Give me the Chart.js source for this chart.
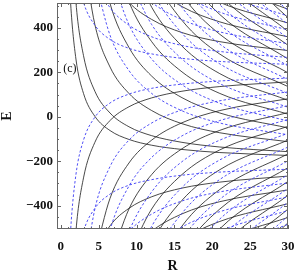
<!DOCTYPE html>
<html>
<head>
<meta charset="utf-8">
<script src="https://cdn.jsdelivr.net/npm/chart.js@4.4.0/dist/chart.umd.min.js"></script>
<style>
  html, body { margin: 0; padding: 0; background: #fff; }
</style>
</head>
<body>
<canvas id="levels" width="294" height="273"></canvas>
<script>
const _ = null;

const rGrid = [1, 1.3, 2, 3, 4.5, 6.5, 9, 12, 16, 21, 30];

// E values on rGrid, falling branches (solid black)
const fallingBlack = [
    [725, 510, 260, 105, 2, -62, -102, -128, -147, -161, -174],
    [_, 903, 515, 275, 115, 17, -45, -85, -115, -136, -157],
    [_, _, _, 725, 415, 224, 105, 28, -31, -72, -112],
    [_, _, _, _, 828, 510, 312, 183, 86, 17, -50],
    [_, _, _, _, _, 797, 518, 338, 202, 105, 12],
    [_, _, _, _, _, _, 725, 493, 318, 194, 74],
    [_, _, _, _, _, _, 931, 648, 434, 282, 136],
    [_, _, _, _, _, _, _, 803, 550, 371, 198],
    [_, _, _, _, _, _, _, 957, 667, 460, 260],
    [_, _, _, _, _, _, _, _, 783, 548, 322],
    [_, _, _, _, _, _, _, _, 899, 637, 384],
    [_, _, _, _, _, _, _, _, _, 725, 446],
    [_, _, _, _, _, _, _, _, _, 814, 508],
    [_, _, _, _, 825, 634, 515, 438, 379, 338, 298],
    [_, _, _, _, _, _, 722, 593, 496, 427, 360],
    [_, _, _, _, _, _, _, 748, 612, 515, 422],
    [_, _, _, _, _, _, _, _, 728, 604, 484]
];

// falling branches (dashed blue)
const fallingBlue = [
    [_, _, _, _, 622, 367, 208, 105, 27, -28, -81],
    [_, _, _, _, _, 654, 415, 260, 144, 61, -19],
    [_, _, _, _, _, _, 621, 415, 260, 149, 43],
    [_, _, _, _, _, _, 828, 570, 376, 238, 105],
    [_, _, _, _, _, _, _, 725, 492, 327, 167],
    [_, _, _, _, _, _, _, 880, 608, 415, 229],
    [_, _, _, _, _, _, _, _, 725, 504, 291],
    [_, _, _, _, _, _, _, _, 841, 592, 353],
    [_, _, _, _, _, _, _, _, 957, 681, 415],
    [_, _, _, _, _, _, _, _, _, 770, 477],
    [_, _, 670, 515, 412, 348, 308, 283, 263, 249, 236],
    [_, _, _, 825, 618, 491, 412, 360, 321, 294, 267],
    [_, _, _, _, _, 777, 618, 515, 437, 382, 329],
    [_, _, _, _, _, _, 825, 670, 554, 471, 391],
    [_, _, _, _, _, _, _, 825, 670, 559, 453]
];

// rising branches (dashed blue)
const risingBlue = [
    [-725, -510, -260, -105, -2, 62, 102, 128, 147, 161, 174],
    [_, _, _, -725, -415, -224, -105, -28, 31, 72, 112],
    [_, _, _, _, -828, -510, -312, -183, -86, -17, 50],
    [_, _, _, _, _, -797, -518, -338, -202, -105, -12],
    [_, _, _, _, _, _, -725, -493, -318, -194, -74],
    [_, _, _, _, _, _, -931, -648, -434, -282, -136],
    [_, _, _, _, _, _, _, -803, -550, -371, -198],
    [_, _, _, _, _, _, _, -957, -667, -460, -260],
    [_, _, _, _, _, _, _, _, -783, -548, -322],
    [_, _, _, _, _, _, _, _, -899, -637, -384],
    [_, _, _, _, _, _, _, _, _, -725, -446],
    [_, _, _, _, _, _, _, _, _, -814, -508],
    [_, _, -670, -515, -412, -348, -308, -283, -263, -249, -236],
    [_, _, _, _, -825, -634, -515, -438, -379, -338, -298],
    [_, _, _, _, _, _, -722, -593, -496, -427, -360],
    [_, _, _, _, _, _, _, -748, -612, -515, -422],
    [_, _, _, _, _, _, _, _, -728, -604, -484]
];

// rising branches (solid black)
const risingBlack = [
    [_, -903, -515, -275, -115, -17, 45, 85, 115, 136, 157],
    [_, _, _, _, -622, -367, -208, -105, -27, 28, 81],
    [_, _, _, _, _, -654, -415, -260, -144, -61, 19],
    [_, _, _, _, _, _, -621, -415, -260, -149, -43],
    [_, _, _, _, _, _, -828, -570, -376, -238, -105],
    [_, _, _, _, _, _, _, -725, -492, -327, -167],
    [_, _, _, _, _, _, _, -880, -608, -415, -229],
    [_, _, _, _, _, _, _, _, -725, -504, -291],
    [_, _, _, _, _, _, _, _, -841, -592, -353],
    [_, _, _, _, _, _, _, _, -957, -681, -415],
    [_, _, _, _, _, _, _, _, _, -770, -477],
    [_, _, _, -825, -618, -491, -412, -360, -321, -294, -267],
    [_, _, _, _, _, -777, -618, -515, -437, -382, -329],
    [_, _, _, _, _, _, -825, -670, -554, -471, -391],
    [_, _, _, _, _, _, _, -825, -670, -559, -453]
];

const xTicks = [0, 5, 10, 15, 20, 25, 30];
const yTicks = [-400, -200, 0, 200, 400];
const panelLabel = { text: '(c)', r: 1.2, e: 215 };

const BLACK = '#1a1a1a';
const BLUE = '#3c3cf5';

function makeSet(values, color, dashed) {
    return {
        data: values.map((e, i) => ({ x: rGrid[i], y: e })),
        borderColor: color,
        borderWidth: dashed ? 0.9 : 0.8,
        borderDash: dashed ? [2.5, 2] : [],
        pointRadius: 0,
        fill: false,
        cubicInterpolationMode: 'monotone'
    };
}

const datasets = [];
fallingBlue.forEach(v => datasets.push(makeSet(v, BLUE, true)));
risingBlue.forEach(v => datasets.push(makeSet(v, BLUE, true)));
fallingBlack.forEach(v => datasets.push(makeSet(v, BLACK, false)));
risingBlack.forEach(v => datasets.push(makeSet(v, BLACK, false)));

// Mathematica-style frame with inward ticks and the panel tag
const frameTicks = {
    id: 'frameTicks',
    afterDatasetsDraw(chart) {
        const { ctx, chartArea: a, scales: { x, y } } = chart;
        ctx.save();
        ctx.strokeStyle = '#666';
        ctx.lineWidth = 1;
        ctx.strokeRect(a.left + 0.5, a.top + 0.5, a.right - a.left - 1, a.bottom - a.top - 1);
        ctx.beginPath();
        for (let v = 0; v <= 30; v++) {
            const px = Math.round(x.getPixelForValue(v)) + 0.5;
            const len = v % 5 === 0 ? 4 : 2;
            ctx.moveTo(px, a.bottom); ctx.lineTo(px, a.bottom - len);
            ctx.moveTo(px, a.top); ctx.lineTo(px, a.top + len);
        }
        for (let v = -500; v <= 500; v += 50) {
            const py = Math.round(y.getPixelForValue(v)) + 0.5;
            const len = v % 200 === 0 ? 4 : 2;
            ctx.moveTo(a.left, py); ctx.lineTo(a.left + len, py);
            ctx.moveTo(a.right, py); ctx.lineTo(a.right - len, py);
        }
        ctx.stroke();
        ctx.fillStyle = '#111';
        ctx.font = '12px "Liberation Serif"';
        ctx.textAlign = 'center';
        ctx.textBaseline = 'middle';
        ctx.fillText(panelLabel.text, x.getPixelForValue(panelLabel.r), y.getPixelForValue(panelLabel.e));
        ctx.restore();
    }
};

const tickFont = { family: '"Liberation Serif", "Times New Roman", serif', size: 13, weight: 'bold' };
const titleFont = { family: '"Liberation Serif", "Times New Roman", serif', size: 14, weight: 'bold', lineHeight: 1 };

new Chart(document.getElementById('levels'), {
    type: 'line',
    data: { datasets },
    options: {
        responsive: false,
        animation: false,
        events: [],
        layout: { padding: { top: 3, right: 6, left: 0, bottom: 0 } },
        plugins: { legend: { display: false }, tooltip: { enabled: false } },
        scales: {
            x: {
                type: 'linear',
                min: -0.5,
                max: 30,
                afterFit(s) { s.height = 44; s.paddingLeft = 0; s.paddingRight = 0; },
                afterBuildTicks(s) { s.ticks = xTicks.map(v => ({ value: v })); },
                grid: { display: false, drawTicks: false },
                border: { display: false },
                ticks: { font: tickFont, color: '#111', padding: 10, autoSkip: false, maxRotation: 0 },
                title: { display: true, text: 'R', font: titleFont, color: '#111', padding: 0 }
            },
            y: {
                type: 'linear',
                min: -505,
                max: 512,
                afterFit(s) { s.width = 57; s.paddingTop = 0; s.paddingBottom = 0; },
                afterBuildTicks(s) { s.ticks = yTicks.map(v => ({ value: v })); },
                grid: { display: false, drawTicks: false },
                border: { display: false },
                ticks: {
                    font: tickFont, color: '#111', padding: 4, autoSkip: false,
                    callback: v => v < 0 ? '\u2212' + (-v) : String(v)
                },
                title: { display: true, text: 'E', font: titleFont, color: '#111', padding: 0 }
            }
        }
    },
    plugins: [frameTicks]
});
</script>
</body>
</html>
